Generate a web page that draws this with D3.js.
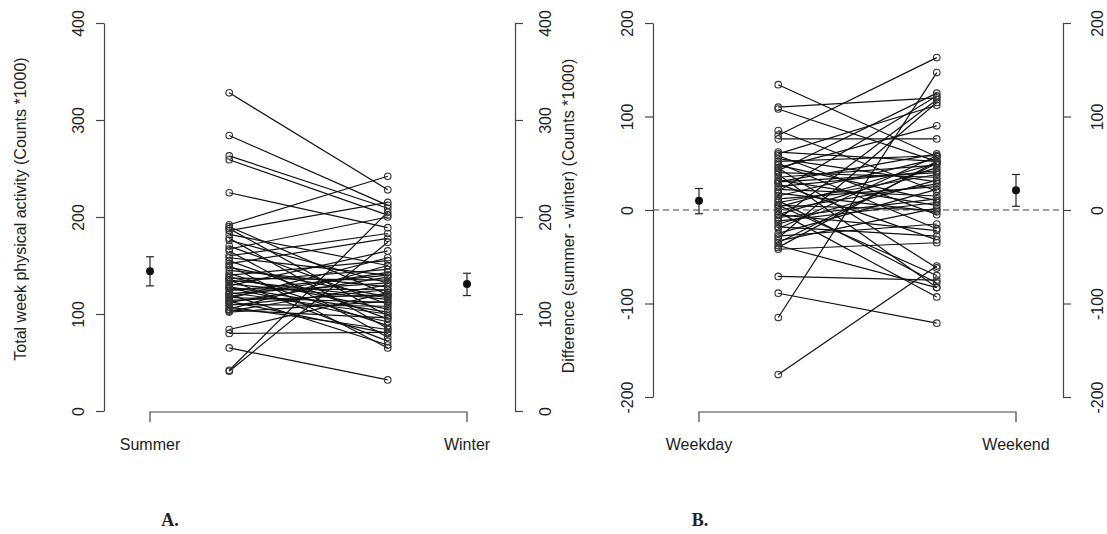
<!DOCTYPE html>
<html>
<head>
<meta charset="utf-8">
<script src="https://cdn.jsdelivr.net/npm/d3@7"></script>
<style>
  body { margin: 0; background: #fff; }
  svg { display: block; font-family: "Liberation Sans", Arial, sans-serif; }
  .domain, .tick line { stroke: #444; stroke-width: 1.2; }
  .tick text { font-size: 16px; fill: #222; }
</style>
</head>
<body>
<svg id="chart" width="1107" height="534"></svg>
<script>
// Panel A: total week activity per subject (Counts *1000)
const summer = [328, 284, 263, 259, 225, 192, 190, 188, 186, 182, 178, 176, 170, 167, 165, 158, 155, 152, 148, 145,
  142, 140, 138, 137, 135, 133, 131, 129, 127, 126, 124, 122, 121, 120, 118, 117, 116, 114, 113, 112,
  110, 109, 107, 105, 104, 103, 102, 84, 80, 65, 42, 41, 135, 128, 150, 160];
const winter = [228, 212, 209, 202, 189, 242, 120, 98, 215, 150, 85, 132, 110, 200, 76, 140, 95, 178, 118, 128,
  88, 155, 105, 135, 72, 146, 115, 165, 92, 125, 140, 100, 132, 68, 143, 112, 158, 120, 80, 138,
  108, 125, 84, 150, 96, 130, 113, 122, 81, 32, 205, 174, 117, 102, 65, 183];
const seasonMeans = [144, 131];
const seasonCI = [[129, 159], [119, 142]];
const seasonLabels = ['Summer', 'Winter'];

// Panel B: difference summer - winter (Counts *1000)
const weekday = [134, 110, 108, 85, 42, 76, 62, 60, 58, 55, 52, 50, 48, 45, 80, 40, 38, 35, 32, 30,
  28, 25, 22, 20, 18, 15, 12, 10, 8, 5, 3, 0, -2, -5, -8, -10, -12, -15, -18, -20,
  -25, -28, -30, -33, -35, -38, -40, -42, -71, -89, -115, -176, 45, -5, 30, 5];
const weekend = [57, 120, 52, 20, 125, 76, 52, 112, -5, 30, 58, -20, 10, 90, 163, 35, -83, 48, 5, 60,
  -32, 42, 15, 122, -2, 55, 25, -78, 38, 0, 50, 28, -93, 45, 12, 118, 8, 32, -28, 58,
  22, -15, 115, 2, 50, -83, 52, -35, -75, -121, 147, -60, -62, -22, 40, -70];
const dayMeans = [10, 21];
const dayCI = [[-4, 23], [4, 38]];
const dayLabels = ['Weekday', 'Weekend'];

const ticksA = [0, 100, 200, 300, 400];
const ticksB = [-200, -100, 0, 100, 200];

const svg = d3.select('#chart');
const ink = '#222';

const yA = d3.scaleLinear().domain([0, 400]).range([411, 23]);
const yB = d3.scaleLinear().domain([-200, 200]).range([397, 23]);
// x: 1 = first mean, 1.5 / 2.5 = subject columns, 3 = second mean
const xA = d3.scaleLinear().domain([1, 3]).range([150, 467]);
const xB = d3.scaleLinear().domain([1, 3]).range([699, 1016]);

function yAxis(gen, xPos, labelShift, ticks) {
  const g = svg.append('g')
    .attr('transform', `translate(${xPos},0)`)
    .call(gen.tickValues(ticks).tickFormat(d => String(d)).tickSize(8).tickSizeOuter(0));
  g.selectAll('.tick text')
    .attr('x', 0).attr('y', 0).attr('dy', 0)
    .attr('text-anchor', 'middle')
    .attr('transform', `translate(${labelShift},0) rotate(-90)`);
  return g;
}

function catAxis(x, labels) {
  const g = svg.append('g');
  g.append('path')
    .attr('d', `M${x(1)},422V412H${x(3)}V422`)
    .attr('fill', 'none').attr('stroke', '#444').attr('stroke-width', 1.2);
  g.selectAll('text').data(labels).join('text')
    .attr('x', (d, i) => x(i === 0 ? 1 : 3))
    .attr('y', 450)
    .attr('text-anchor', 'middle')
    .attr('font-size', 16)
    .attr('fill', ink)
    .text(d => d);
}

function panel(x, y, left, right, means, ci) {
  const g = svg.append('g');
  const pairs = left.map((v, i) => [v, right[i]]);
  g.selectAll('line.pair').data(pairs).join('line')
    .attr('class', 'pair')
    .attr('x1', x(1.5)).attr('x2', x(2.5))
    .attr('y1', d => y(d[0])).attr('y2', d => y(d[1]))
    .attr('stroke', '#111').attr('stroke-width', 1.2);
  [[left, 1.5], [right, 2.5]].forEach(([vals, pos]) => {
    g.selectAll(null).data(vals).join('circle')
      .attr('cx', x(pos)).attr('cy', d => y(d)).attr('r', 3.3)
      .attr('fill', 'none').attr('stroke', '#333').attr('stroke-width', 1.1);
  });
  // means with error bars
  means.forEach((m, i) => {
    const cx = x(i === 0 ? 1 : 3);
    const [lo, hi] = ci[i];
    g.append('line').attr('x1', cx).attr('x2', cx).attr('y1', y(lo)).attr('y2', y(hi))
      .attr('stroke', ink).attr('stroke-width', 1.2);
    [lo, hi].forEach(v => g.append('line')
      .attr('x1', cx - 4).attr('x2', cx + 4).attr('y1', y(v)).attr('y2', y(v))
      .attr('stroke', ink).attr('stroke-width', 1.2));
    g.append('circle').attr('cx', cx).attr('cy', y(m)).attr('r', 4).attr('fill', '#111');
  });
}

// Panel A
yAxis(d3.axisLeft(yA), 104, -20, ticksA);
yAxis(d3.axisRight(yA), 515, 36, ticksA);
catAxis(xA, seasonLabels);
panel(xA, yA, summer, winter, seasonMeans, seasonCI);

svg.append('text')
  .attr('transform', 'translate(26,209) rotate(-90)')
  .attr('text-anchor', 'middle').attr('font-size', 16).attr('fill', ink)
  .text('Total week physical activity (Counts *1000)');

// Panel B
svg.append('line')
  .attr('x1', 653).attr('x2', 1063).attr('y1', yB(0)).attr('y2', yB(0))
  .attr('stroke', '#444').attr('stroke-width', 1.2).attr('stroke-dasharray', '6,4');
yAxis(d3.axisLeft(yB), 653, -20, ticksB);
yAxis(d3.axisRight(yB), 1063, 40, ticksB);
catAxis(xB, dayLabels);
panel(xB, yB, weekday, weekend, dayMeans, dayCI);

svg.append('text')
  .attr('transform', 'translate(574,216) rotate(-90)')
  .attr('text-anchor', 'middle').attr('font-size', 16).attr('fill', ink)
  .text('Difference (summer - winter) (Counts *1000)');

// panel letters
svg.selectAll('text.panel').data([['A.', 170], ['B.', 700]]).join('text')
  .attr('class', 'panel')
  .attr('x', d => d[1]).attr('y', 526)
  .attr('text-anchor', 'middle')
  .attr('font-family', '"Liberation Serif", "Times New Roman", serif')
  .attr('font-weight', 'bold').attr('font-size', 18).attr('fill', ink)
  .text(d => d[0]);
</script>
</body>
</html>
